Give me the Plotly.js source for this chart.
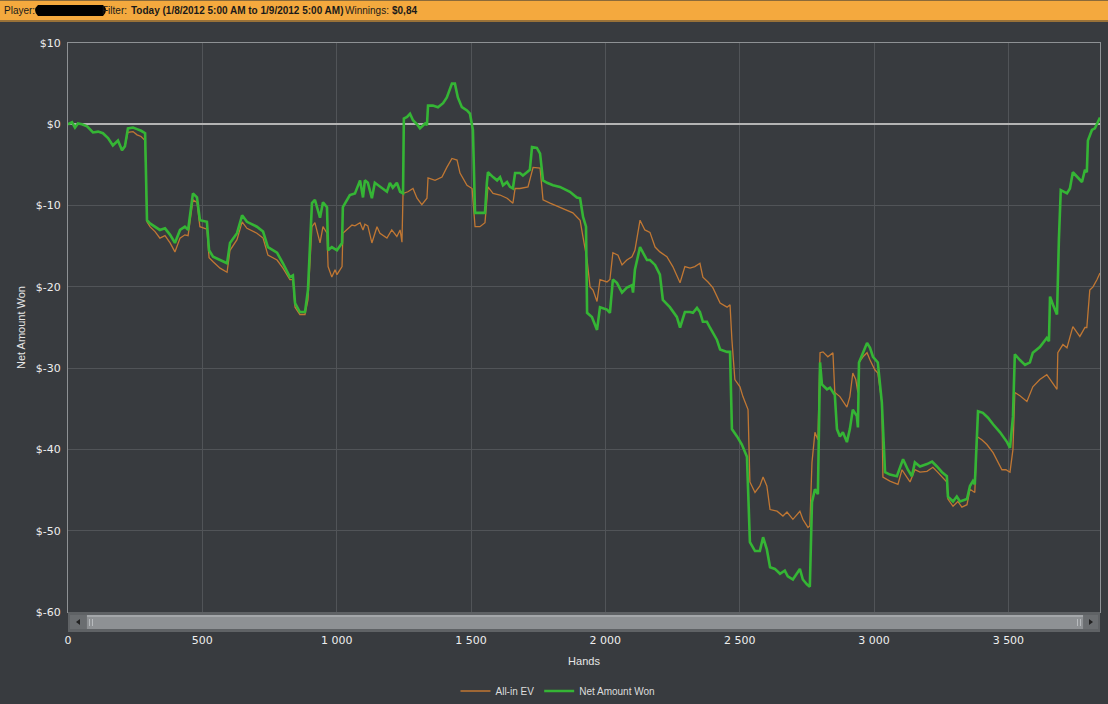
<!DOCTYPE html>
<html>
<head>
<meta charset="utf-8">
<script src="https://cdn.plot.ly/plotly-3.0.1.min.js"></script>
<style>
  html, body { margin: 0; padding: 0; background: #383b3f; }
  #chart { width: 1108px; height: 704px; }
</style>
</head>
<body>
<div id="chart"></div>
<script>
// ---- Data ----
const netHands = [
  0,15,26,37,52,71,93,112,130,149,167,186,201,212,223,242,257,272,287,
  294,305,324,342,361,380,398,417,435,447,465,480,491,517,525,540,566,592,603,629,648,666,703,726,744,778,800,826,837,845,863,882,893,908,919,938,949,964,968,982,1001,1020,1023,1049,1068,1087,1098,1105,1116,1131,1142,1161,1187,1198,1209,1224,1236,1247,
  1250,1262,1273,1284,1299,1310,1329,1336,1340,1358,1377,1396,1410,1429,1440,1451,1466,1485,1496,1507,1515,1533,1552,1559,1563,1582,1597,1608,1619,1634,1645,1656,1664,1682,1693,1708,1719,1727,1745,1757,1768,1783,1805,1831,1850,1868,1894,1906,1917,1928,
  1932,1950,1969,1980,2006,2017,2028,2043,2062,2080,2099,2103,2110,2129,2140,2155,2166,2185,2203,2214,2240,2266,2278,2296,2315,2326,2341,2352,2363,2378,2389,2415,2427,2453,2464,
  2471,2490,2508,2527,2538,2557,2575,2587,2601,2613,2631,2650,2668,2679,2698,2724,2735,2750,2761,2769,2780,2791,2799,2806,2825,2836,2854,2862,2873,2884,2899,2910,2921,2936,2940,2944,2959,2974,2985,2996,3014,3029,3041,3059,3085,3096,3108,3126,3141,3152,3171,3197,3216,3234,3253,3271,3275,3294,3308,3320,3346,3357,3368,3375,3387,3405,3424,3443,3469,3495,3506,3517,3524,3543,3562,3580,3591,3617,3643,3651,3655,3666,3681,3688,3695,3718,3729,3740,3759,3774,3785,3792,3796,3811,3822,3833,3841
];
const netWon = [
  0,0.25,-0.4,0.1,0,-0.25,-1.0,-0.9,-1.1,-1.7,-2.6,-2.0,-3.2,-2.7,-0.5,-0.4,-0.6,-0.8,-1.1,
  -11.8,-12.2,-12.6,-13.0,-12.8,-13.6,-14.6,-13.0,-12.6,-13.0,-8.5,-9.0,-11.8,-12.0,-15.5,-16.3,-16.7,-17.1,-14.6,-13.4,-11.2,-12.0,-12.6,-13.2,-15.1,-15.8,-17.1,-18.8,-18.6,-22.0,-23.1,-23.1,-20.4,-9.7,-9.3,-11.5,-9.6,-10.2,-15.5,-15.1,-15.5,-14.6,-10.2,-8.7,-8.5,-6.9,-9.0,-6.9,-7.2,-9.1,-7.2,-7.7,-8.3,-7.2,-7.8,-7.2,-8.3,-8.5,
  0.7,0.9,1.3,0.5,0,-0.5,0.1,-0.1,2.3,2.3,2.1,2.6,3.3,5.0,5.0,3.3,2.1,1.7,1.3,-0.7,-10.9,-10.9,-10.9,-7.2,-5.9,-6.5,-6.9,-6.5,-7.5,-7.1,-7.7,-7.9,-6.0,-6.0,-6.3,-5.9,-5.6,-2.8,-2.9,-3.6,-6.9,-7.2,-7.5,-7.7,-8.0,-8.3,-9.0,-9.1,-11.4,-12.6,
  -23.2,-23.7,-25.3,-22.5,-22.8,-23.2,-19.1,-19.5,-20.7,-20.1,-19.8,-20.7,-17.9,-15.1,-15.8,-16.7,-16.7,-17.3,-18.5,-21.6,-22.5,-23.7,-25.0,-23.1,-23.1,-23.2,-22.6,-23.1,-24.3,-24.3,-25.0,-26.5,-27.7,-28.0,-28.0,
  -37.5,-38.4,-39.4,-40.9,-51.4,-52.5,-52.5,-50.8,-52.3,-54.5,-54.7,-55.3,-54.9,-55.6,-56.0,-54.7,-56.0,-56.6,-56.9,-46.5,-44.9,-45.5,-29.3,-32.0,-32.6,-32.4,-33.3,-37.5,-38.4,-37.9,-39.1,-37.5,-35.1,-35.9,-37.3,-29.3,-28.1,-26.9,-27.5,-28.6,-29.3,-34.2,-42.8,-43.1,-43.3,-42.2,-41.2,-42.5,-43.3,-41.6,-42.1,-41.8,-41.5,-42.1,-42.8,-43.3,-45.8,-46.4,-45.8,-46.4,-46.1,-44.5,-43.9,-44.3,-35.3,-35.5,-36.1,-36.9,-37.9,-39.1,-39.8,-36.0,-28.3,-29.0,-29.6,-29.3,-28.1,-27.4,-26.3,-26.7,-21.2,-22.2,-23.4,-14.2,-8.1,-8.5,-7.9,-5.9,-6.5,-7.1,-5.6,-5.9,-2.0,-0.7,-0.5,0.3,0.84
];

const evHands = [
  0,15,26,37,52,71,93,112,130,149,167,186,201,212,223,242,257,272,287,
  294,305,324,342,361,380,398,417,435,447,465,480,491,517,525,540,566,592,603,629,648,666,703,726,744,778,800,826,837,845,863,882,893,
  908,919,938,949,964,968,982,994,1001,1020,1023,1042,1057,1068,1087,1098,1105,1116,1131,1150,1161,1187,1205,1224,1236,1243,
  1247,1265,1284,1299,1317,1336,1340,1366,1392,1410,1429,1448,1459,1485,1504,1515,1533,1552,1563,1582,1608,1634,1656,1664,1682,1712,1731,1757,1768,1794,1831,1857,1879,1894,1906,1917,
  1932,1943,1954,1969,1980,2006,2017,2028,2047,2062,2080,2099,2110,2129,2147,2166,2185,2203,2229,2251,2266,2278,2296,2315,2333,2352,2363,2382,2400,2427,2453,2464,
  2471,2475,2482,2501,2512,2531,2538,2557,2575,2587,2601,2613,2639,2661,2676,2698,2724,2735,2754,2761,2769,2780,2791,2799,2810,2828,2847,2854,2873,2899,2910,2921,2932,2940,2944,2959,2974,2985,3003,3014,3029,
  3033,3059,3089,3104,3122,3134,3152,3171,3197,3219,3234,3256,3271,3275,3294,3312,3327,3346,3357,3375,3383,3401,3420,3443,3476,3491,3506,3517,3524,3543,3569,3591,3617,3643,3655,3681,3684,3703,3718,3740,3755,3766,3785,3792,3803,3815,3830,3841
];
const allInEV = [
  0,0.25,-0.4,0.1,0,-0.25,-1.0,-0.9,-1.1,-1.7,-2.6,-2.0,-3.2,-2.7,-1.0,-0.9,-1.3,-1.5,-2.0,
  -12.0,-12.6,-13.2,-14.0,-13.7,-14.6,-15.7,-14.0,-13.6,-13.7,-9.3,-9.6,-12.6,-12.9,-16.4,-16.9,-17.7,-18.2,-15.5,-14.2,-12.0,-12.8,-13.4,-14.0,-16.1,-16.7,-17.7,-19.1,-19.1,-22.5,-23.4,-23.4,-21.6,
  -12.6,-12.1,-14.6,-12.6,-13.4,-17.5,-18.8,-17.9,-18.5,-17.5,-13.4,-12.8,-12.4,-12.5,-12.1,-13.0,-12.3,-12.5,-14.6,-12.6,-13.4,-14.0,-13.0,-13.8,-13.0,-14.5,
  -8.5,-8.3,-7.9,-9.1,-9.9,-9.1,-6.6,-6.9,-6.5,-5.3,-4.2,-4.4,-6.0,-7.5,-7.9,-12.6,-12.6,-12.1,-7.7,-8.5,-8.7,-9.1,-9.7,-7.9,-7.9,-7.7,-5.3,-5.4,-9.3,-9.7,-10.2,-10.6,-10.9,-11.4,-11.8,-13.9,
  -16.7,-20.0,-20.4,-21.8,-19.1,-19.4,-19.1,-15.8,-16.1,-17.3,-16.7,-16.3,-15.5,-11.8,-13.0,-13.3,-15.1,-15.7,-16.3,-17.5,-18.5,-19.5,-17.5,-17.7,-17.5,-17.1,-18.8,-19.4,-20.1,-22.0,-22.5,-22.2,
  -26.5,-28.1,-31.4,-32.3,-33.5,-35.1,-44.0,-45.3,-44.5,-43.4,-44.5,-47.4,-47.6,-48.2,-47.7,-48.6,-47.6,-48.6,-49.6,-49.4,-41.6,-37.9,-38.8,-28.1,-28.0,-28.6,-28.1,-33.0,-33.5,-34.8,-33.5,-30.6,-31.4,-33.0,-29.3,-28.6,-28.1,-29.0,-30.2,-30.6,-34.2,
  -43.4,-43.9,-44.3,-42.5,-43.4,-44.0,-42.5,-42.8,-42.7,-42.2,-42.7,-43.4,-44.0,-46.1,-47.0,-46.4,-47.1,-46.8,-44.9,-45.3,-38.4,-38.8,-39.4,-40.4,-42.5,-42.5,-42.8,-40.0,-33.0,-33.4,-34.1,-32.3,-31.4,-30.8,-31.4,-32.6,-28.1,-27.1,-27.5,-24.9,-25.6,-26.1,-25.0,-25.0,-20.4,-20.0,-19.1,-18.3
];

const seriesNames = ["All-in EV", "Net Amount Won"];
const xTickVals = [0, 500, 1000, 1500, 2000, 2500, 3000, 3500];
const xTickText = ["0", "500", "1 000", "1 500", "2 000", "2 500", "3 000", "3 500"];
const yTickVals = [10, 0, -10, -20, -30, -40, -50, -60];
const yTickText = ["$10", "$0", "$-10", "$-20", "$-30", "$-40", "$-50", "$-60"];

const headerPlayer = "Player:";
const headerFilterLabel = "Filter:";
const headerFilterValue = "Today (1/8/2012 5:00 AM to 1/9/2012 5:00 AM)";
const headerWinLabel = "Winnings:";
const headerWinValue = "$0,84";

// ---- Layout helpers (pixel -> paper) ----
const W = 1108, H = 704;
const M = { l: 68, r: 8, t: 43, b: 92, autoexpand: false };
const PW = W - M.l - M.r, PH = H - M.t - M.b;
const px = p => (p - M.l) / PW;
const py = p => (H - M.b - p) / PH;

const BG = "#383b3f";

function rect(x0, y0, x1, y1, fill, line) {
  return { type: "rect", xref: "paper", yref: "paper", x0: px(x0), x1: px(x1), y0: py(y1), y1: py(y0),
           fillcolor: fill, line: { width: line ? 1 : 0, color: line || fill }, layer: "above" };
}
function tri(points, fill) {
  const d = "M " + points.map(p => px(p[0]) + "," + py(p[1])).join(" L ") + " Z";
  return { type: "path", xref: "paper", yref: "paper", path: d, fillcolor: fill, line: { width: 0 }, layer: "above" };
}

const shapes = [
  // header bar
  rect(0, 0, 1108, 21, "#f4a93e"),
  rect(0, 0, 1108, 1, "#8a6a3a"),
  rect(0, 20, 1108, 22, "#9a7238"),
  // redaction blob
  { type: "path", xref: "paper", yref: "paper", layer: "above", fillcolor: "#000000", line: { width: 0 },
    path: "M " + px(38) + "," + py(5) + " L " + px(103) + "," + py(5) + " Q " + px(109) + "," + py(10) + " " + px(103) + "," + py(16) +
          " L " + px(38) + "," + py(16) + " Q " + px(32) + "," + py(10) + " " + px(38) + "," + py(5) + " Z" },
  // scrollbar
  rect(68, 612, 1100, 632, "#5f6265"),
  rect(70, 615, 1098, 629, "#6d7073"),
  rect(87, 615, 1083, 629, "#8e9194"),
  rect(87, 615, 1083, 617, "#a4a7aa"),
  rect(70, 615, 86, 629, "#6a6d70"),
  rect(1084, 615, 1098, 629, "#6a6d70"),
  tri([[76, 622], [80, 619], [80, 625]], "#222222"),
  tri([[1093, 622], [1089, 619], [1089, 625]], "#222222"),
  rect(89, 619, 90, 626, "#b8bbbe"),
  rect(92, 619, 93, 626, "#b8bbbe"),
  rect(1077, 619, 1078, 626, "#b8bbbe"),
  rect(1080, 619, 1081, 626, "#b8bbbe")
];

const hdrFont = { family: "Liberation Sans, Arial, sans-serif", size: 10, color: "#1a1a1a" };
function hdr(text, x, bold) {
  return { xref: "paper", yref: "paper", x: px(x), y: py(10.5), xanchor: "left", yanchor: "middle",
           text: bold ? "<b>" + text + "</b>" : text, showarrow: false, font: hdrFont };
}
const annotations = [
  hdr(headerPlayer, 2, false),
  hdr(headerFilterLabel, 100, false),
  hdr(headerFilterValue, 129, true),
  hdr(headerWinLabel, 343, false),
  hdr(headerWinValue, 390, true)
];

const traces = [
  { x: evHands, y: allInEV, name: seriesNames[0], type: "scatter", mode: "lines",
    line: { color: "#c07733", width: 1.3 } },
  { x: netHands, y: netWon, name: seriesNames[1], type: "scatter", mode: "lines",
    line: { color: "#35b535", width: 2.6 } }
];

const tickFont = { family: "DejaVu Sans, sans-serif", size: 11, color: "#eeeeee" };
const titleFont = { family: "Liberation Sans, Arial, sans-serif", size: 11, color: "#e6e6e6" };

const layout = {
  width: W, height: H,
  margin: M,
  paper_bgcolor: BG, plot_bgcolor: BG,
  showlegend: true,
  legend: { orientation: "h", x: px(558), xanchor: "center", y: py(691), yanchor: "middle",
            font: { family: "Liberation Sans, Arial, sans-serif", size: 10, color: "#dddddd" },
            bgcolor: "rgba(0,0,0,0)" },
  xaxis: {
    range: [0, 3841], tickvals: xTickVals, ticktext: xTickText, automargin: false,
    tickfont: tickFont, ticks: "", ticklabelstandoff: 18,
    showgrid: true, gridcolor: "#515458", gridwidth: 1,
    zeroline: false, showline: true, linecolor: "#8e9194", linewidth: 1, mirror: true,
    title: { text: "Hands", font: titleFont, standoff: 11 },
    fixedrange: true
  },
  yaxis: {
    range: [-60, 10], tickvals: yTickVals, ticktext: yTickText, automargin: false,
    tickfont: tickFont, ticks: "", ticklabelstandoff: 4,
    showgrid: true, gridcolor: "#515458", gridwidth: 1,
    zeroline: true, zerolinecolor: "#b4b4b4", zerolinewidth: 2,
    showline: true, linecolor: "#8e9194", linewidth: 1, mirror: true,
    title: { text: "Net Amount Won", font: titleFont, standoff: 7 },
    fixedrange: true
  },
  shapes: shapes,
  annotations: annotations
};

Plotly.newPlot("chart", traces, layout, { displayModeBar: false, staticPlot: true });
</script>
</body>
</html>
